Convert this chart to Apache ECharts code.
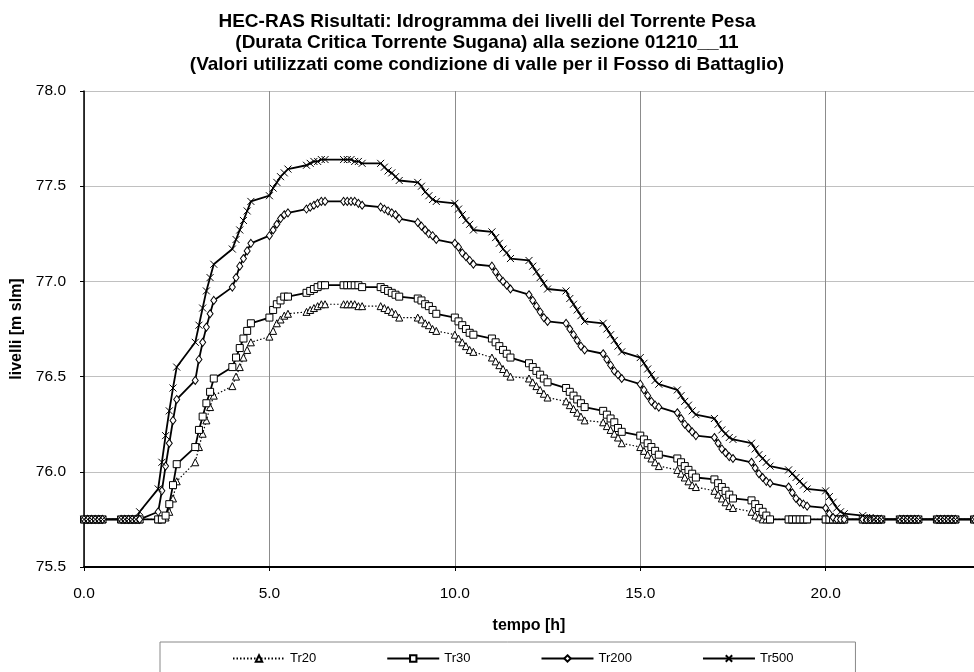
<!DOCTYPE html>
<html>
<head>
<meta charset="utf-8">
<script src="https://cdn.jsdelivr.net/npm/echarts@6/dist/echarts.min.js"></script>
<style>
  html, body { margin: 0; padding: 0; background: #fff; }
  #chart { width: 974px; height: 672px; }
</style>
</head>
<body>
<div id="chart"></div>
<script>
// tempo [h]: 6 letture per ora (0.0 - 0.5) + fine
const tempo = [
  0, 0.1, 0.2, 0.3, 0.4, 0.5,
  1, 1.1, 1.2, 1.3, 1.4, 1.5,
  2, 2.1, 2.2, 2.3, 2.4, 2.5,
  3, 3.1, 3.2, 3.3, 3.4, 3.5,
  4, 4.1, 4.2, 4.3, 4.4, 4.5,
  5, 5.1, 5.2, 5.3, 5.4, 5.5,
  6, 6.1, 6.2, 6.3, 6.4, 6.5,
  7, 7.1, 7.2, 7.3, 7.4, 7.5,
  8, 8.1, 8.2, 8.3, 8.4, 8.5,
  9, 9.1, 9.2, 9.3, 9.4, 9.5,
  10, 10.1, 10.2, 10.3, 10.4, 10.5,
  11, 11.1, 11.2, 11.3, 11.4, 11.5,
  12, 12.1, 12.2, 12.3, 12.4, 12.5,
  13, 13.1, 13.2, 13.3, 13.4, 13.5,
  14, 14.1, 14.2, 14.3, 14.4, 14.5,
  15, 15.1, 15.2, 15.3, 15.4, 15.5,
  16, 16.1, 16.2, 16.3, 16.4, 16.5,
  17, 17.1, 17.2, 17.3, 17.4, 17.5,
  18, 18.1, 18.2, 18.3, 18.4, 18.5,
  19, 19.1, 19.2, 19.3, 19.4, 19.5,
  20, 20.1, 20.2, 20.3, 20.4, 20.5,
  21, 21.1, 21.2, 21.3, 21.4, 21.5,
  22, 22.1, 22.2, 22.3, 22.4, 22.5,
  23, 23.1, 23.2, 23.3, 23.4, 23.5,
  24
];

const tr20 = [
  75.75, 75.75, 75.75, 75.75, 75.75, 75.75,
  75.75, 75.75, 75.75, 75.75, 75.75, 75.75,
  75.75, 75.75, 75.76, 75.79, 75.86, 75.95,
  76.05, 76.13, 76.20, 76.27, 76.34, 76.40,
  76.45, 76.50, 76.55, 76.60, 76.64, 76.68,
  76.71, 76.74, 76.78, 76.80, 76.82, 76.83,
  76.84, 76.85, 76.86, 76.87, 76.88, 76.88,
  76.88, 76.88, 76.88, 76.88, 76.87, 76.87,
  76.87, 76.86, 76.85, 76.84, 76.83, 76.81,
  76.81, 76.80, 76.78, 76.77, 76.75, 76.74,
  76.72, 76.70, 76.68, 76.66, 76.64, 76.63,
  76.60, 76.58, 76.56, 76.54, 76.52, 76.50,
  76.49, 76.47, 76.45, 76.43, 76.41, 76.39,
  76.37, 76.35, 76.33, 76.31, 76.29, 76.27,
  76.26, 76.24, 76.22, 76.20, 76.18, 76.15,
  76.13, 76.11, 76.09, 76.07, 76.05, 76.03,
  76.01, 75.99, 75.97, 75.95, 75.93, 75.92,
  75.90, 75.88, 75.86, 75.84, 75.82, 75.81,
  75.79, 75.77, 75.76, 75.75, 75.75, 75.75,
  75.75, 75.75, 75.75, 75.75, 75.75, 75.75,
  75.75, 75.75, 75.75, 75.75, 75.75, 75.75,
  75.75, 75.75, 75.75, 75.75, 75.75, 75.75,
  75.75, 75.75, 75.75, 75.75, 75.75, 75.75,
  75.75, 75.75, 75.75, 75.75, 75.75, 75.75,
  75.75
];

const tr30 = [
  75.75, 75.75, 75.75, 75.75, 75.75, 75.75,
  75.75, 75.75, 75.75, 75.75, 75.75, 75.75,
  75.75, 75.75, 75.77, 75.83, 75.93, 76.04,
  76.13, 76.22, 76.29, 76.36, 76.42, 76.49,
  76.55, 76.60, 76.65, 76.70, 76.74, 76.78,
  76.81, 76.85, 76.88, 76.90, 76.92, 76.92,
  76.94, 76.95, 76.96, 76.97, 76.98, 76.98,
  76.98, 76.98, 76.98, 76.98, 76.98, 76.97,
  76.97, 76.96, 76.95, 76.94, 76.93, 76.92,
  76.91, 76.90, 76.88, 76.87, 76.85, 76.83,
  76.81, 76.79, 76.77, 76.75, 76.73, 76.72,
  76.70, 76.68, 76.66, 76.64, 76.62, 76.60,
  76.57, 76.55, 76.53, 76.51, 76.49, 76.47,
  76.44, 76.42, 76.40, 76.38, 76.36, 76.34,
  76.32, 76.30, 76.28, 76.26, 76.23, 76.21,
  76.19, 76.17, 76.15, 76.13, 76.11, 76.09,
  76.07, 76.05, 76.03, 76.01, 75.99, 75.97,
  75.96, 75.94, 75.92, 75.90, 75.88, 75.86,
  75.85, 75.83, 75.81, 75.79, 75.77, 75.75,
  75.75, 75.75, 75.75, 75.75, 75.75, 75.75,
  75.75, 75.75, 75.75, 75.75, 75.75, 75.75,
  75.75, 75.75, 75.75, 75.75, 75.75, 75.75,
  75.75, 75.75, 75.75, 75.75, 75.75, 75.75,
  75.75, 75.75, 75.75, 75.75, 75.75, 75.75,
  75.75
];

const tr200 = [
  75.75, 75.75, 75.75, 75.75, 75.75, 75.75,
  75.75, 75.75, 75.75, 75.75, 75.75, 75.75,
  75.79, 75.90, 76.03, 76.15, 76.27, 76.38,
  76.48, 76.59, 76.68, 76.76, 76.83, 76.90,
  76.97, 77.02, 77.08, 77.12, 77.16, 77.20,
  77.24, 77.27, 77.30, 77.33, 77.35, 77.36,
  77.38, 77.39, 77.40, 77.41, 77.42, 77.42,
  77.42, 77.42, 77.42, 77.42, 77.41, 77.40,
  77.39, 77.38, 77.37, 77.36, 77.35, 77.33,
  77.31, 77.29, 77.27, 77.25, 77.24, 77.22,
  77.20, 77.18, 77.15, 77.13, 77.11, 77.09,
  77.08, 77.05, 77.02, 77.00, 76.98, 76.96,
  76.93, 76.90, 76.87, 76.84, 76.81, 76.79,
  76.78, 76.75, 76.72, 76.69, 76.66, 76.64,
  76.62, 76.59, 76.56, 76.53, 76.51, 76.49,
  76.46, 76.43, 76.40, 76.37, 76.35, 76.34,
  76.31, 76.28, 76.25, 76.23, 76.21, 76.19,
  76.18, 76.15, 76.12, 76.10, 76.08, 76.07,
  76.05, 76.02, 75.99, 75.97, 75.95, 75.94,
  75.92, 75.89, 75.86, 75.84, 75.83, 75.82,
  75.81, 75.78, 75.76, 75.75, 75.75, 75.75,
  75.75, 75.75, 75.75, 75.75, 75.75, 75.75,
  75.75, 75.75, 75.75, 75.75, 75.75, 75.75,
  75.75, 75.75, 75.75, 75.75, 75.75, 75.75,
  75.75
];

const tr500 = [
  75.75, 75.75, 75.75, 75.75, 75.75, 75.75,
  75.75, 75.75, 75.75, 75.75, 75.75, 75.79,
  75.91, 76.05, 76.19, 76.32, 76.44, 76.55,
  76.68, 76.77, 76.86, 76.95, 77.02, 77.09,
  77.17, 77.22, 77.27, 77.32, 77.37, 77.42,
  77.45, 77.49, 77.52, 77.55, 77.57, 77.59,
  77.61, 77.62, 77.63, 77.63, 77.64, 77.64,
  77.64, 77.64, 77.64, 77.63, 77.63, 77.62,
  77.62, 77.60, 77.58, 77.57, 77.55, 77.53,
  77.52, 77.50, 77.47, 77.45, 77.43, 77.42,
  77.41, 77.38, 77.35, 77.32, 77.30, 77.27,
  77.26, 77.23, 77.20, 77.17, 77.15, 77.12,
  77.11, 77.08, 77.05, 77.02, 76.99, 76.96,
  76.95, 76.91, 76.88, 76.85, 76.82, 76.79,
  76.78, 76.75, 76.72, 76.69, 76.66, 76.63,
  76.60, 76.57, 76.54, 76.51, 76.48, 76.46,
  76.43, 76.40, 76.37, 76.35, 76.32, 76.30,
  76.28, 76.25, 76.22, 76.20, 76.18, 76.17,
  76.15, 76.12, 76.09, 76.07, 76.05, 76.03,
  76.01, 75.99, 75.97, 75.95, 75.93, 75.91,
  75.90, 75.87, 75.84, 75.81, 75.79, 75.78,
  75.77, 75.76, 75.76, 75.75, 75.75, 75.75,
  75.75, 75.75, 75.75, 75.75, 75.75, 75.75,
  75.75, 75.75, 75.75, 75.75, 75.75, 75.75,
  75.75
];

const font = "'Liberation Sans', Arial, sans-serif";
const crossSymbol = "path://M0,0L10,10M10,0L0,10";

function makeSeries(name, values, symbol, size, dotted) {
  return {
    name,
    type: "line",
    data: tempo.map((t, i) => [t, values[i]]),
    symbol: symbol,
    symbolSize: size,
    showAllSymbol: true,
    clip: false,
    lineStyle: {
      color: "#000",
      width: dotted ? 1.2 : 1.8,
      type: dotted ? [1.5, 2] : "solid",
    },
    itemStyle: {
      color: "#fff",
      borderColor: "#000",
      borderWidth: 1,
    },
    emphasis: { disabled: true },
  };
}

const chart = echarts.init(document.getElementById("chart"), null, { renderer: "canvas" });
chart.setOption({
  animation: false,
  backgroundColor: "#fff",
  textStyle: { fontFamily: font },
  title: {
    text: "HEC-RAS Risultati: Idrogramma dei livelli del Torrente Pesa\n(Durata Critica Torrente Sugana) alla sezione 01210__11\n(Valori utilizzati come condizione di valle per il Fosso di Battaglio)",
    left: "center",
    top: 11,
    padding: 0,
    textStyle: {
      fontFamily: font,
      fontSize: 19,
      fontWeight: "bold",
      lineHeight: 21.5,
      color: "#000",
    },
  },
  grid: { left: 84, top: 91, right: -7, bottom: 105, containLabel: false },
  legend: {
    data: ["Tr20", "Tr30", "Tr200", "Tr500"],
    left: 160,
    top: 642,
    orient: "horizontal",
    itemWidth: 52,
    itemHeight: 8,
    itemGap: 70,
    padding: [10, 62, 30, 72],
    borderColor: "#888",
    borderWidth: 1,
    selectedMode: false,
    textStyle: { fontFamily: font, fontSize: 13, color: "#000" },
  },
  xAxis: {
    type: "value",
    min: 0,
    max: 24,
    interval: 5,
    name: "tempo [h]",
    nameLocation: "middle",
    nameGap: 51,
    nameTextStyle: { fontFamily: font, fontSize: 16, fontWeight: "bold", color: "#000" },
    axisLine: { lineStyle: { color: "#000", width: 2 } },
    axisTick: { show: true, length: 4, lineStyle: { color: "#000" } },
    axisLabel: {
      margin: 19,
      fontFamily: font,
      fontSize: 15.5,
      color: "#000",
      showMaxLabel: false,
      formatter: (v) => v.toFixed(1),
    },
    splitLine: { show: true, lineStyle: { color: "#8c8c8c", width: 1 } },
  },
  yAxis: {
    type: "value",
    min: 75.5,
    max: 78.0,
    interval: 0.5,
    name: "livelli [m slm]",
    nameLocation: "middle",
    nameGap: 58,
    nameTextStyle: { fontFamily: font, fontSize: 16, fontWeight: "bold", color: "#000" },
    axisLine: { show: true, lineStyle: { color: "#000", width: 1.5 } },
    axisTick: { show: true, length: 4, lineStyle: { color: "#000" } },
    axisLabel: {
      margin: 18,
      fontFamily: font,
      fontSize: 15.5,
      color: "#000",
      formatter: (v) => v.toFixed(1),
    },
    splitLine: { show: true, lineStyle: { color: "#c0c0c0", width: 1 } },
  },
  series: [
    makeSeries("Tr20", tr20, "triangle", 7, true),
    makeSeries("Tr30", tr30, "rect", 7, false),
    makeSeries("Tr200", tr200, "diamond", [6, 8], false),
    makeSeries("Tr500", tr500, crossSymbol, 7, false),
  ],
});
</script>
</body>
</html>
